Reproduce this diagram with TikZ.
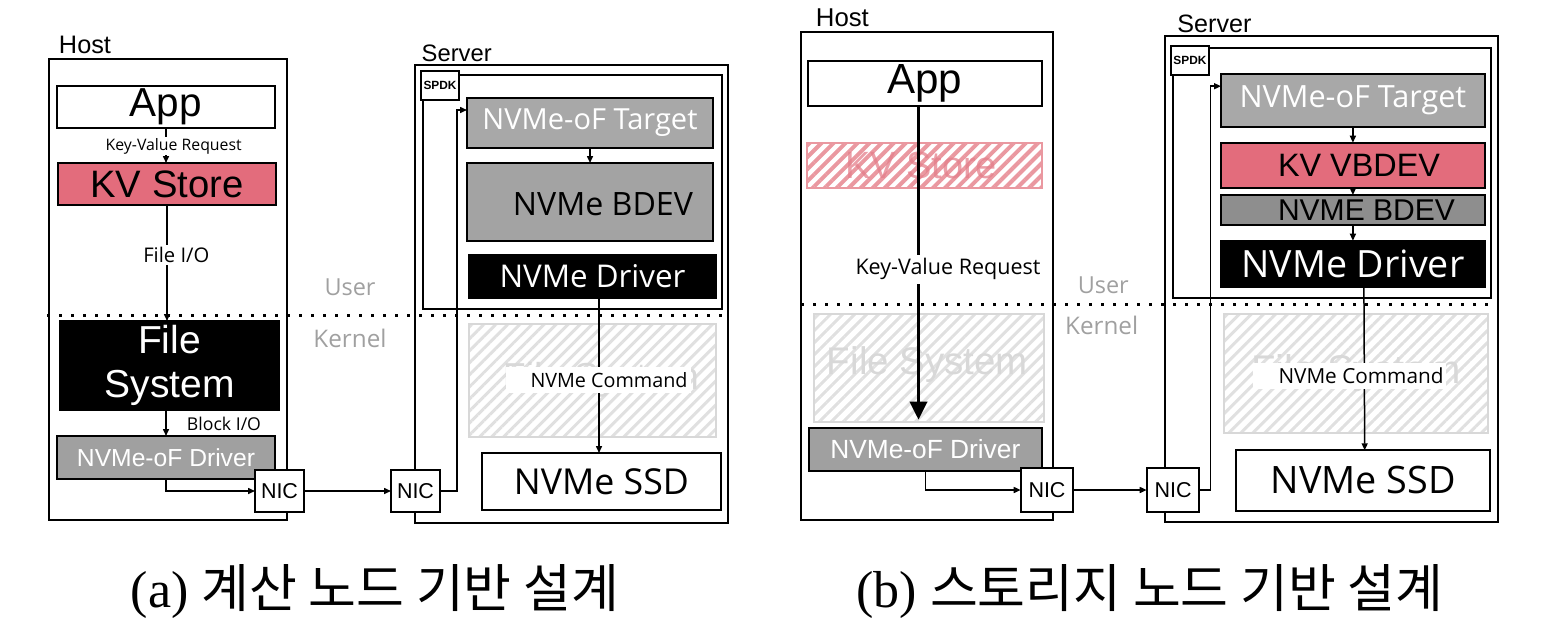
\documentclass[tikz,border=0pt]{standalone}
\usepackage{fontspec}
\setmainfont{Liberation Sans}
\newfontfamily\osans{Open Sans}
\newfontfamily\krfont{Noto Sans CJK KR}
\newfontfamily\capserif{Liberation Serif}
\usepackage{graphicx}
\usetikzlibrary{arrows.meta,patterns.meta}
\definecolor{kvred}{HTML}{E36C7C}
\definecolor{tgtgray}{HTML}{A8A8A8}
\definecolor{bdevgray}{HTML}{A3A3A3}
\definecolor{drvgray}{HTML}{A0A0A0}
\definecolor{nbdevgray}{HTML}{8E8E8E}
\definecolor{hatchgray}{HTML}{E0E0E0}
\definecolor{ghostgray}{HTML}{D8D8D8}
\definecolor{hatchred}{HTML}{EA98A0}
\definecolor{ghostred}{HTML}{E47F8B}
\definecolor{ukgray}{HTML}{A0A0A0}
\newcommand\tw[2]{\resizebox{#1pt}{!}{#2}}
\begin{document}
\begin{tikzpicture}[x=1pt,y=-1pt,
 frame/.style={draw, line width=2pt, inner sep=0pt, outer sep=0pt},
 box/.style={draw, line width=2pt, inner sep=0pt, outer sep=0pt},
 ghost/.style={draw=ghostgray, line width=2pt, inner sep=0pt, outer sep=0pt,
   pattern={Lines[angle=45,distance=8.5pt,line width=3pt]}, pattern color=hatchgray},
 ghostkv/.style={draw=hatchred, line width=2pt, inner sep=0pt, outer sep=0pt,
   pattern={Lines[angle=45,distance=8.5pt,line width=4pt]}, pattern color=hatchred},
 lbl/.style={inner sep=2pt, outer sep=0pt, fill=white},
 conn/.style={line width=1.5pt, -{Triangle[length=7pt,width=6pt]}},
 bigarrow/.style={line width=3.5pt, -{Triangle[length=18pt,width=17pt]}},
 dotline/.style={line width=3pt, dash pattern=on 3pt off 9pt},
 nic/.style={box, fill=white, minimum width=49pt, minimum height=42pt},
 spdklbl/.style={box, fill=white, minimum width=38pt, minimum height=29pt},
 uk/.style={text=ukgray, inner sep=0pt},
 ]
\useasboundingbox (0,0) rectangle (1544,640);

% ================= (a) =================
\node[frame, minimum width=238pt, minimum height=461pt] (hostA) at (168,289.5) {};
\node[inner sep=0pt] (hostAl) at (85,45) {\tw{52}{Host}};
\node[frame, minimum width=313pt, minimum height=458pt] (srvA) at (571.5,294) {};
\node[inner sep=0pt] (srvAl) at (456.7,53) {\tw{70}{Server}};
\node[frame, minimum width=299pt, minimum height=234pt] (spdkA) at (572.5,192) {};
\node[spdklbl] (spdkAl) at (440,85) {\tw{33}{\bfseries SPDK}};

\node[box, fill=white, minimum width=218pt, minimum height=42pt] (appA) at (166,107) {\tw{72}{App}};
\node[box, fill=kvred, minimum width=218pt, minimum height=42pt] (kvA) at (167,184) {\tw{153}{KV Store}};
\node[box, fill=black, text=white, minimum width=219pt, minimum height=89pt, align=center,
      font=\fontsize{39}{44}\selectfont] (fsA) at (169.5,365.5) {File\\System};
\node[box, fill=drvgray, text=white, minimum width=218pt, minimum height=43pt] (drvA) at (166,457.5) {\tw{178}{NVMe-oF Driver}};
\node[nic] (nicA1) at (279.5,491) {\tw{37}{NIC}};
\node[nic] (nicA2) at (415.5,491) {\tw{37}{NIC}};

\node[box, fill=tgtgray, text=white, minimum width=246pt, minimum height=50pt] (tgtA) at (590,123) {\tw{215}{\osans NVMe-oF Target}};
\node[box, fill=bdevgray, minimum width=246pt, minimum height=78pt] (bdevA) at (590,202) {};
\node[inner sep=0pt] (bdevAt) at (603,204) {\tw{180}{\osans NVMe BDEV}};
\node[box, fill=black, text=white, minimum width=247pt, minimum height=43pt] (ndrvA) at (592.5,276.5) {\tw{186}{\osans NVMe Driver}};
\node[ghost, minimum width=247pt, minimum height=113pt] (gfsA) at (592.5,380.5) {};
\node[text=ghostgray, inner sep=0pt] (gfsAt) at (601,380) {\tw{196}{File System}};
\node[box, fill=white, minimum width=239pt, minimum height=57pt] (ssdA) at (601.5,481.5) {\tw{175}{\osans NVMe SSD}};

\draw[conn] (appA.south) -- (appA.south |- kvA.north);
\draw[conn] (kvA.south) -- (kvA.south |- fsA.north);
\draw[conn] (drvA.north |- fsA.south) -- (drvA.north);
\draw[conn] (drvA.south) |- (nicA1.west);
\draw[conn] (nicA1.east) -- (nicA2.west);
\coordinate (turnA) at (457,110);
\draw[conn] (nicA2.east) -| (turnA) -- (turnA -| tgtA.west);
\draw[conn] (tgtA.south) -- (bdevA.north);
\draw[conn] ([xshift=6.5pt]ndrvA.south) -- ([xshift=-2.5pt]ssdA.north);

\node[lbl, inner xsep=3pt, inner ysep=1pt] (kvrA) at (173.7,146) {\tw{136}{\osans Key-Value Request}};
\node[lbl, inner xsep=3pt, inner ysep=2pt] (fioA) at (176.3,255) {\tw{66}{\osans File I/O}};
\node[lbl, inner xsep=10pt, inner ysep=4pt] (bioA) at (224,424) {\tw{74}{\osans Block I/O}};
\node[lbl, inner xsep=3pt, minimum height=26pt] (cmdA) at (598,380) {\hspace*{22pt}\tw{157}{\osans NVMe Command}};

\draw[dotline] (47,315) -- (722,315);
\node[uk] (userA) at (350,287) {\tw{51}{\osans User}};
\node[uk] (kernA) at (350,338) {\tw{73}{\osans Kernel}};

% ================= (b) =================
\node[frame, minimum width=252pt, minimum height=488pt] (hostB) at (927,276) {};
\node[inner sep=0pt] (hostBl) at (842.4,17.6) {\tw{53}{Host}};
\node[frame, minimum width=332.6pt, minimum height=486.8pt] (srvB) at (1331.7,278.9) {};
\node[inner sep=0pt] (srvBl) at (1214.4,23.7) {\tw{74}{Server}};
\node[frame, minimum width=318.2pt, minimum height=249.2pt] (spdkB) at (1331.9,172.9) {};
\node[spdklbl] (spdkBl) at (1189.9,60.3) {\tw{33}{\bfseries SPDK}};

\node[box, fill=white, minimum width=234pt, minimum height=45.5pt] (appB) at (924.8,83.7) {\tw{75}{App}};
\node[ghostkv, minimum width=235pt, minimum height=45.6pt] (kvB) at (924.5,165.5) {};
\node[text=ghostred, opacity=0.75, inner sep=0pt] (kvBt) at (921,165.5) {\tw{152}{KV Store}};
\node[ghost, minimum width=230pt, minimum height=107.6pt] (gfsB1) at (929,368.2) {};
\node[text=ghostgray, inner sep=0pt] (gfsB1t) at (927.5,365) {\tw{201}{File System}};
\node[box, fill=drvgray, text=white, minimum width=233.4pt, minimum height=43pt] (drvB) at (925.3,449.2) {\tw{190}{NVMe-oF Driver}};
\node[nic, minimum width=52.6pt, minimum height=43.4pt] (nicB1) at (1047,490) {\tw{37}{NIC}};
\node[nic, minimum width=52.6pt, minimum height=43.4pt] (nicB2) at (1173,490) {\tw{37}{NIC}};

\node[box, fill=tgtgray, text=white, minimum width=263.8pt, minimum height=53.1pt] (tgtB) at (1352.9,100.25) {\tw{226.7}{\osans NVMe-oF Target}};
\node[box, fill=kvred, minimum width=263.8pt, minimum height=44.9pt] (kvvB) at (1352.9,165.15) {};
\node[inner sep=0pt] (kvvBt) at (1359,165.15) {\tw{162}{KV VBDEV}};
\node[box, fill=nbdevgray, minimum width=263.8pt, minimum height=29.8pt] (nbdevB) at (1352.9,209.9) {};
\node[inner sep=0pt] (nbdevBt) at (1366.5,209.9) {\tw{177}{NVME BDEV}};
\node[box, fill=black, text=white, minimum width=263.8pt, minimum height=46pt] (ndrvB) at (1352.9,263.7) {\tw{223}{\osans NVMe Driver}};
\node[ghost, minimum width=264.4pt, minimum height=119.7pt] (gfsB2) at (1356,373.55) {};
\node[text=ghostgray, inner sep=0pt] (gfsB2t) at (1356,373) {\tw{209}{File System}};
\node[box, fill=white, minimum width=253.7pt, minimum height=60.2pt] (ssdB) at (1363.2,480.4) {\tw{185}{\osans NVMe SSD}};

\draw[bigarrow, shorten >=8pt] ([xshift=-6.3pt]appB.south) -- ([xshift=-6.8pt]drvB.north);
\draw[conn] (drvB.south) |- (nicB1.west);
\draw[conn] (nicB1.east) -- (nicB2.west);
\coordinate (turnB) at (1210.7,86.2);
\draw[conn] (nicB2.east) -| (turnB) -- (turnB -| tgtB.west);
\draw[conn] (tgtB.south) -- (kvvB.north);
\draw[conn] (kvvB.south) -- (nbdevB.north);
\draw[conn] (nbdevB.south) -- (ndrvB.north);
\draw[conn] ([xshift=11pt]ndrvB.south) -- ([xshift=1.5pt]ssdB.north);

\node[lbl, inner xsep=3pt, inner ysep=4pt] (kvrB) at (948,269.4) {\tw{185}{\osans Key-Value Request}};
\node[lbl, inner xsep=2pt, minimum height=26pt] (cmdB) at (1349,376) {\hspace*{24pt}\tw{165}{\osans NVMe Command}};

\draw[dotline] (801,304) -- (1495,304);
\node[uk] (userB) at (1103.3,285) {\tw{51}{\osans User}};
\node[uk] (kernB) at (1101.7,325) {\tw{73}{\osans Kernel}};

% ================= captions =================
\node[inner sep=0pt] (capA) at (375,592) {\fontsize{52}{60}\selectfont\capserif (a) \krfont 계산 노드 기반 설계};
\node[inner sep=0pt] (capB) at (1150,592) {\fontsize{52}{60}\selectfont\capserif (b) \krfont 스토리지 노드 기반 설계};
\end{tikzpicture}
\end{document}
